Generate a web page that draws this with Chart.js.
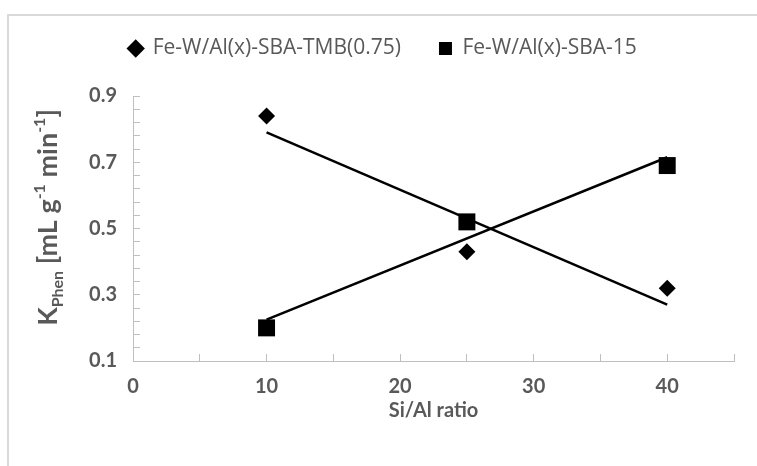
<!DOCTYPE html>
<html>
<head>
<meta charset="utf-8">
<script src="https://cdn.jsdelivr.net/npm/chart.js@4.4.1/dist/chart.umd.min.js"></script>
<style>
  html, body { margin: 0; padding: 0; background: #fff; }
  #wrap { position: relative; width: 757px; height: 466px; }
</style>
</head>
<body>
<div id="wrap"><canvas id="chart" width="757" height="466"></canvas></div>
<script>
// values
const siAlRatio = [10, 25, 40];
const kPhenTmb = [0.84, 0.43, 0.32];
const kPhenSba15 = [0.20, 0.52, 0.69];
// linear trendline end points
const trendX = [10, 40];
const trendTmb = [0.79, 0.27];
const trendSba15 = [0.225, 0.715];

const seriesLabels = ["Fe-W/Al(x)-SBA-TMB(0.75)", "Fe-W/Al(x)-SBA-15"];
const xTickLabels = [0, 10, 20, 30, 40];
const yTickLabels = [0.1, 0.3, 0.5, 0.7, 0.9];

const textGray = "#595959";
const axisGray = "#bfbfbf";

const toPoints = (xs, ys) => xs.map((x, i) => ({ x, y: ys[i] }));

// legend takes the whole band above the plot
const legendBand = {
  id: "legendBand",
  beforeInit(chart) {
    const fit = chart.legend.fit;
    chart.legend.fit = function () {
      fit.call(this);
      this.height = 96;
    };
  }
};

const yTitleParts = [
  { text: "K", size: 27, shift: 0 },
  { text: "Phen", size: 16, shift: 6 },
  { text: " [mL g", size: 27, shift: 0 },
  { text: "-1", size: 16, shift: -12 },
  { text: " min", size: 27, shift: 0 },
  { text: "-1", size: 16, shift: -12 },
  { text: "]", size: 27, shift: 0 }
];

const decorations = {
  id: "decorations",
  beforeDraw(chart) {
    const ctx = chart.ctx;
    ctx.save();
    ctx.fillStyle = "#d9d9d9";
    ctx.fillRect(7, 14, 750, 2);
    ctx.fillRect(7, 14, 2, 452);
    ctx.restore();
  },
  afterDraw(chart) {
    const ctx = chart.ctx;
    const area = chart.chartArea;
    ctx.save();
    ctx.fillStyle = textGray;
    ctx.textBaseline = "alphabetic";
    let total = 0;
    yTitleParts.forEach((p) => {
      ctx.font = `bold ${p.size}px Lato`;
      p.w = ctx.measureText(p.text).width;
      total += p.w;
    });
    ctx.translate(57, (area.top + area.bottom) / 2 - 11);
    ctx.rotate(-Math.PI / 2);
    let x = -total / 2;
    yTitleParts.forEach((p) => {
      ctx.font = `bold ${p.size}px Lato`;
      ctx.fillText(p.text, x, p.shift);
      x += p.w;
    });
    ctx.restore();
  }
};

const tickFont = { family: "Lato", size: 20, weight: "bold" };

new Chart(document.getElementById("chart"), {
  type: "scatter",
  data: {
    datasets: [
      {
        label: seriesLabels[0],
        data: toPoints(siAlRatio, kPhenTmb),
        pointStyle: "rectRot",
        pointRadius: 8.5,
        backgroundColor: "#000",
        borderColor: "#000",
        borderWidth: 0
      },
      {
        label: seriesLabels[1],
        data: toPoints(siAlRatio, kPhenSba15),
        pointStyle: "rect",
        pointRadius: 12,
        backgroundColor: "#000",
        borderColor: "#000",
        borderWidth: 0
      },
      {
        label: "trend TMB",
        data: toPoints(trendX, trendTmb),
        showLine: true,
        pointRadius: 0,
        borderColor: "#000",
        borderWidth: 2.5
      },
      {
        label: "trend SBA-15",
        data: toPoints(trendX, trendSba15),
        showLine: true,
        pointRadius: 0,
        borderColor: "#000",
        borderWidth: 2.5
      }
    ]
  },
  options: {
    responsive: false,
    animation: false,
    layout: { padding: { left: 32, right: 23, top: 0, bottom: 0 } },
    plugins: {
      legend: {
        position: "top",
        labels: {
          usePointStyle: true,
          boxWidth: 13,
          boxHeight: 13,
          padding: 38,
          color: textGray,
          font: { family: "'Open Sans'", size: 21 },
          filter: (item) => item.datasetIndex < 2
        }
      },
      tooltip: { enabled: false }
    },
    scales: {
      x: {
        type: "linear",
        min: 0,
        max: 45,
        afterFit: (s) => { s.height = 105; },
        ticks: {
          stepSize: 5,
          autoSkip: false,
          maxRotation: 0,
          padding: 21,
          color: textGray,
          font: tickFont,
          callback: (v) => (xTickLabels.includes(v) ? String(v) : "")
        },
        grid: { drawOnChartArea: false, drawTicks: true, tickLength: -7, color: axisGray },
        border: { color: axisGray, width: 1 },
        title: {
          display: true,
          text: "Si/Al ratio",
          color: textGray,
          font: { family: "Lato", size: 20, weight: "bold" },
          padding: { top: 0, bottom: 43 }
        }
      },
      y: {
        min: 0.1,
        max: 0.9,
        afterFit: (s) => { s.width = 101; },
        ticks: {
          stepSize: 0.04,
          autoSkip: false,
          padding: 23,
          color: textGray,
          font: tickFont,
          callback: (v) => {
            const hit = yTickLabels.find((t) => Math.abs(t - v) < 1e-6);
            return hit === undefined ? "" : hit.toFixed(1);
          }
        },
        grid: { drawOnChartArea: false, drawTicks: true, tickLength: -7, color: axisGray },
        border: { color: axisGray, width: 1 }
      }
    }
  },
  plugins: [legendBand, decorations]
});
</script>
</body>
</html>
